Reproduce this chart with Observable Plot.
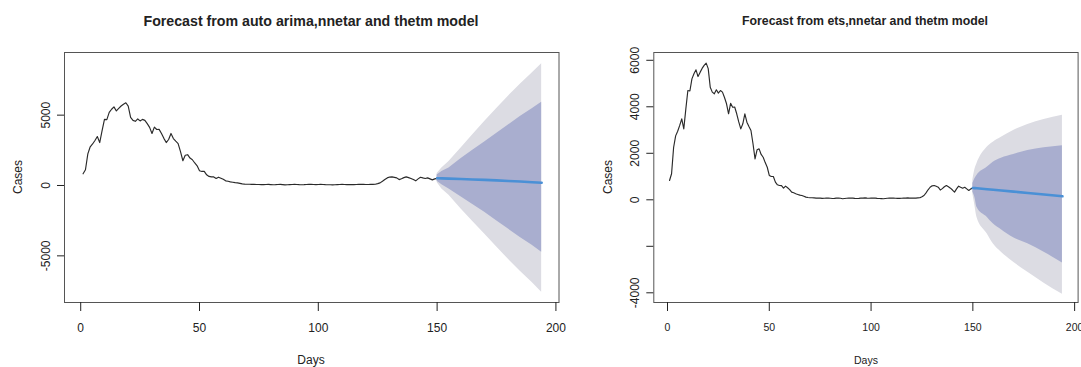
<!DOCTYPE html>
<html>
<head>
<meta charset="utf-8">
<script src="https://cdn.jsdelivr.net/npm/d3@7"></script>
<script src="https://cdn.jsdelivr.net/npm/@observablehq/plot@0.6"></script>
<style>
  html, body { margin: 0; padding: 0; background: #fff; }
  #wrap { position: relative; width: 1081px; height: 367px; overflow: hidden; font-family: "Liberation Sans", Arial, sans-serif; color: #222; }
  .panel { position: absolute; top: 0; }
  .panel svg { overflow: visible; }
  .lbl { position: absolute; white-space: nowrap; transform: translate(-50%, -50%); }
  .title { font-weight: bold; font-size: 14.2px; }
  .axl { font-size: 12px; }
  .rot { transform: translate(-50%, -50%) rotate(-90deg); }
</style>
</head>
<body>
<div id="wrap">
  <div id="p1" class="panel" style="left:0px"></div>
  <div id="p2" class="panel" style="left:540px"></div>
  <div class="lbl title" style="left:311px; top:21px;">Forecast from auto arima,nnetar and thetm model</div>
  <div class="lbl title" style="left:865px; top:21px; font-size:12.3px;">Forecast from ets,nnetar and thetm model</div>
  <div class="lbl axl" style="left:311px; top:360px;">Days</div>
  <div class="lbl axl" style="left:866px; top:360px; font-size:10.5px;">Days</div>
  <div class="lbl axl rot" style="left:18px; top:177px;">Cases</div>
  <div class="lbl axl rot" style="left:608px; top:177px;">Cases</div>
</div>
<script>
// ---- historical daily cases (days 1..150) ----
const cases = [
  830, 1120, 2250, 2750, 2950, 3200, 3480, 3050, 3900, 4700,
  4680, 5200, 5420, 5590, 5300, 5480, 5650, 5780, 5880, 5640,
  4840, 4630, 4560, 4730, 4590, 4700, 4630, 4400, 4130, 3700,
  4150, 3980, 3990, 3700, 3350, 3050, 3270, 3700, 3340, 3150,
  2980, 2410, 1760, 2150, 2190, 1950, 1830, 1600, 1400, 1050,
  1000, 1000, 760, 645, 615, 610, 500, 590, 520, 440,
  330, 300, 260, 230, 200, 185, 150, 115, 100, 90,
  86, 80, 75, 70, 70, 60, 65, 70, 75, 65,
  55, 60, 70, 75, 65, 45, 55, 65, 70, 75,
  70, 60, 55, 60, 70, 75, 80, 70, 65, 70,
  75, 70, 60, 55, 50, 45, 55, 65, 70, 75,
  70, 65, 60, 60, 65, 70, 75, 80, 75, 70,
  70, 75, 80, 86, 130, 185, 300, 430, 540, 600,
  615, 580, 542, 420, 480, 560, 615, 560, 500, 420,
  330, 470, 585, 540, 500, 540, 470, 400, 470, 510
];

// ---- forecast, panel 1 (auto arima, nnetar, thetm) ----
const f1Days = [150, 152, 155, 160, 165, 170, 175, 180, 185, 190, 194];
const f1Hi95 = [850, 1250, 1700, 2650, 3600, 4550, 5450, 6350, 7200, 8000, 8650];
const f1Hi80 = [750, 1000, 1250, 1900, 2500, 3100, 3700, 4300, 4900, 5450, 5920];
const f1Mean = [519, 505, 490, 460, 430, 400, 365, 320, 280, 230, 192];
const f1Lo80 = [300, 50, -250, -800, -1350, -1900, -2500, -3100, -3700, -4250, -4741];
const f1Lo95 = [210, -250, -700, -1650, -2550, -3450, -4350, -5250, -6100, -6900, -7584];

// ---- forecast, panel 2 (ets, nnetar, thetm) ----
const f2Days = [150, 151, 152, 157, 160, 164, 170, 177, 185, 194];
const f2Hi95 = [850, 1300, 1550, 2260, 2480, 2690, 2980, 3240, 3450, 3640];
const f2Hi80 = [700, 900, 1045, 1400, 1618, 1790, 1950, 2120, 2234, 2320];
const f2Mean = [510, 502, 495, 455, 430, 400, 350, 295, 230, 150];
const f2Lo80 = [320, 100, -318, -749, -1032, -1290, -1634, -1892, -2254, -2720];
const f2Lo95 = [250, -250, -749, -1462, -1892, -2254, -2684, -3114, -3587, -4060];

const xTicks = [0, 50, 100, 150, 200];
const y1Ticks = [-5000, 0, 5000];
const y2Ticks = [-4000, -2000, 0, 2000, 4000, 6000];

const hist = cases.map((v, i) => ({day: i + 1, v}));
const fc1 = f1Days.map((d, i) => ({day: d, hi95: f1Hi95[i], hi80: f1Hi80[i], mean: f1Mean[i], lo80: f1Lo80[i], lo95: f1Lo95[i]}));
const fc2 = f2Days.map((d, i) => ({day: d, hi95: f2Hi95[i], hi80: f2Hi80[i], mean: f2Mean[i], lo80: f2Lo80[i], lo95: f2Lo95[i]}));

const C_OUT = "#dcdce3", C_IN = "#a9aecf", C_MEAN = "#4a90d6";

function panel(o) {
  return Plot.plot({
    width: o.width, height: 367,
    marginLeft: o.ml, marginRight: o.mr, marginTop: 52, marginBottom: 65,
    style: {fontFamily: "'Liberation Sans', Arial, sans-serif", fontSize: "12px", color: "#222", background: "transparent", overflow: "visible"},
    x: {domain: o.xd, ticks: xTicks},
    y: {domain: o.yd},
    marks: [
      Plot.areaY(o.fc, {x: "day", y1: "lo95", y2: "hi95", fill: C_OUT, curve: o.curve}),
      Plot.areaY(o.fc, {x: "day", y1: "lo80", y2: "hi80", fill: C_IN, curve: o.curve}),
      Plot.lineY(hist, {x: "day", y: "v", stroke: "#2a2a2a", strokeWidth: 1.15}),
      Plot.lineY(o.fc, {x: "day", y: "mean", stroke: C_MEAN, strokeWidth: 2.6}),
      Plot.frame({stroke: "#555", strokeWidth: 1}),
      Plot.axisX({ticks: xTicks, tickSize: 9, tickPadding: 12, fontSize: o.xfs, label: null, tickFormat: d => String(d)}),
      Plot.axisY({ticks: o.yt, tickSize: 7, tickPadding: 8, tickRotate: -90, label: null, tickFormat: o.yfmt})
    ]
  });
}

document.getElementById("p1").appendChild(panel({
  width: 575, ml: 64, mr: 16.5, xd: [-6.82, 201.3], yd: [-8316, 9453],
  fc: fc1, curve: "linear", yt: y1Ticks, xfs: "12px", yfmt: d => String(d)
}));
document.getElementById("p2").appendChild(panel({
  width: 541, ml: 113.3, mr: 3.4, xd: [-6.73, 201.7], yd: [-4417, 6335],
  fc: fc2, curve: "monotone-x", yt: y2Ticks, xfs: "10.5px", yfmt: d => d === -2000 ? "" : String(d)
}));
</script>
</body>
</html>
